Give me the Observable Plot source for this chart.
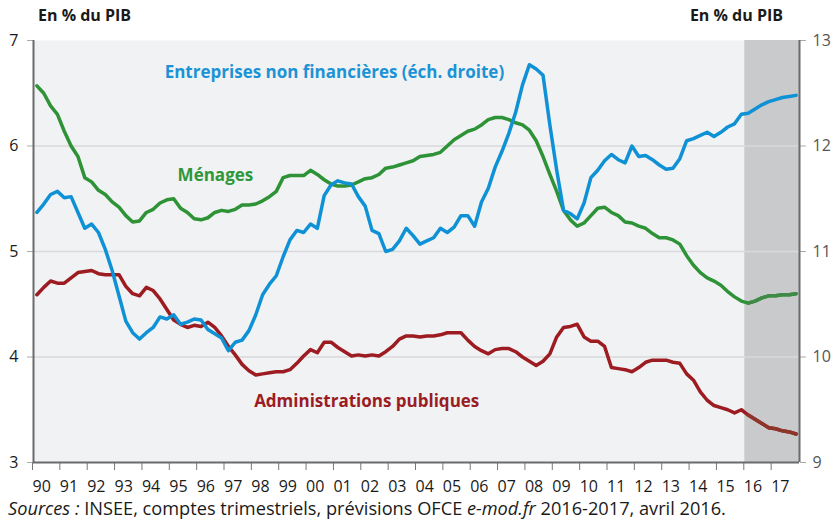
<!DOCTYPE html>
<html>
<head>
<meta charset="utf-8">
<script src="https://cdn.jsdelivr.net/npm/d3@7"></script>
<script src="https://cdn.jsdelivr.net/npm/@observablehq/plot@0.6"></script>
<style>
  html, body { margin: 0; padding: 0; background: #ffffff; overflow: hidden; }
  #wrap { position: relative; width: 835px; height: 522px; font-family: "Open Sans", sans-serif; color: #1a1a1a; overflow: hidden; }
  .hdr { position: absolute; top: 4px; font-weight: bold; font-size: 16px; }
  #caption { position: absolute; left: 8px; top: 498px; font-size: 18.2px; line-height: 20px; white-space: nowrap; }
</style>
</head>
<body>
<div id="wrap">
  <div id="chart"></div>
  <div class="hdr" style="left:38px;">En % du PIB</div>
  <div class="hdr" style="right:52px;">En % du PIB</div>
  <div id="caption"><i>Sources :</i> INSEE, comptes trimestriels, prévisions OFCE <i>e-mod.fr</i> 2016-2017, avril 2016.</div>
</div>
<script>
// Quarterly data, 1990Q1 – 2017Q4 (% du PIB)
const startYear = 1990;
const endYear = 2018;
const forecastStart = 2016;

const menages = [
  6.57, 6.50, 6.38, 6.30,  6.14, 6.00, 5.90, 5.70,  5.66, 5.58, 5.54, 5.47,
  5.42, 5.34, 5.28, 5.29,  5.37, 5.40, 5.46, 5.49,  5.50, 5.41, 5.37, 5.31,
  5.30, 5.32, 5.37, 5.39,  5.38, 5.40, 5.44, 5.44,  5.45, 5.48, 5.52, 5.57,
  5.70, 5.72, 5.72, 5.72,  5.77, 5.73, 5.68, 5.64,  5.62, 5.62, 5.63, 5.66,
  5.69, 5.70, 5.73, 5.79,  5.80, 5.82, 5.84, 5.86,  5.90, 5.91, 5.92, 5.94,
  6.00, 6.06, 6.10, 6.14,  6.16, 6.20, 6.25, 6.27,  6.27, 6.25, 6.22, 6.20,
  6.15, 6.05, 5.90, 5.73,  5.57, 5.39, 5.30, 5.24,  5.27, 5.34, 5.41, 5.42,
  5.37, 5.34, 5.28, 5.27,  5.24, 5.22, 5.17, 5.13,  5.13, 5.11, 5.07, 4.96,
  4.87, 4.80, 4.75, 4.72,  4.68, 4.62, 4.57, 4.53,  4.51, 4.53, 4.56, 4.58,
  4.58, 4.59, 4.59, 4.60
];

const administrations = [
  4.59, 4.66, 4.72, 4.70,  4.70, 4.75, 4.80, 4.81,  4.82, 4.79, 4.78, 4.78,
  4.78, 4.67, 4.60, 4.58,  4.66, 4.63, 4.55, 4.45,  4.35, 4.31, 4.28, 4.30,
  4.29, 4.33, 4.28, 4.20,  4.10, 4.02, 3.93, 3.87,  3.83, 3.84, 3.85, 3.86,
  3.86, 3.88, 3.94, 4.01,  4.07, 4.04, 4.14, 4.14,  4.09, 4.05, 4.01, 4.02,
  4.01, 4.02, 4.01, 4.05,  4.10, 4.17, 4.20, 4.20,  4.19, 4.20, 4.20, 4.21,
  4.23, 4.23, 4.23, 4.16,  4.10, 4.06, 4.03, 4.07,  4.08, 4.08, 4.05, 4.00,
  3.96, 3.92, 3.96, 4.03,  4.19, 4.28, 4.29, 4.31,  4.19, 4.15, 4.15, 4.10,
  3.90, 3.89, 3.88, 3.86,  3.90, 3.95, 3.97, 3.97,  3.97, 3.95, 3.94, 3.84,
  3.78, 3.67, 3.59, 3.54,  3.52, 3.50, 3.47, 3.50,  3.45, 3.41, 3.37, 3.33,
  3.32, 3.30, 3.29, 3.27
];

// right-hand scale
const entreprises = [
  11.37, 11.45, 11.54, 11.57,  11.51, 11.52, 11.37, 11.22,  11.26, 11.18, 11.02, 10.82,
  10.58, 10.34, 10.23, 10.17,  10.23, 10.28, 10.38, 10.36,  10.40, 10.31, 10.33, 10.36,
  10.35, 10.26, 10.22, 10.18,  10.06, 10.14, 10.16, 10.25,  10.40, 10.59, 10.69, 10.77,
  10.95, 11.11, 11.20, 11.18,  11.26, 11.22, 11.53, 11.63,  11.67, 11.65, 11.64, 11.52,
  11.43, 11.20, 11.17, 11.00,  11.02, 11.10, 11.22, 11.15,  11.07, 11.10, 11.13, 11.22,
  11.18, 11.23, 11.34, 11.34,  11.24, 11.47, 11.60, 11.80,  11.95, 12.12, 12.32, 12.58,
  12.77, 12.73, 12.67, 12.20,  11.77, 11.39, 11.36, 11.31,  11.46, 11.70, 11.77, 11.86,
  11.92, 11.87, 11.84, 12.00,  11.90, 11.91, 11.87, 11.82,  11.78, 11.79, 11.88, 12.05,
  12.07, 12.10, 12.13, 12.09,  12.13, 12.18, 12.21, 12.30,  12.31, 12.35, 12.39, 12.42,
  12.44, 12.46, 12.47, 12.48
];

const leftTicks = [3, 4, 5, 6, 7];
const rightOffset = 6; // right scale = left scale + 6 (9–13)
const yearTicks = d3.range(1990, 2018);
const yearLabels = ["90","91","92","93","94","95","96","97","98","99","00","01","02","03","04","05","06","07","08","09","10","11","12","13","14","15","16","17"];

const colors = {
  menages: "#2e9236", menagesF: "#3f8a47",
  admin: "#9c1c21", adminF: "#8c3528",
  entreprises: "#0f91d5"
};

const toRows = (arr) => arr.map((v, i) => ({t: startYear + (i + 0.5) / 4, v}));
const rowsM = toRows(menages);
const rowsA = toRows(administrations);
const rowsE = toRows(entreprises);
const fc = (rows) => rows.filter(d => d.t > forecastStart);

const chart = Plot.plot({
  width: 835,
  height: 500,
  marginLeft: 33,
  marginRight: 36,
  marginTop: 40,
  marginBottom: 38,
  style: {fontFamily: "'Open Sans', sans-serif", fontSize: "16px", background: "transparent"},
  x: {domain: [startYear, endYear], axis: null},
  y: {domain: [3, 7], axis: null},
  marks: [
    Plot.frame({fill: "#f1f2f4", stroke: "none"}),
    Plot.rect([{x1: forecastStart, x2: endYear}], {x1: "x1", x2: "x2", fill: "#c9cacc"}),
    Plot.gridY([4, 5, 6], {stroke: "#d9d9db", strokeOpacity: 1, strokeWidth: 1.3}),
    Plot.axisY(leftTicks, {anchor: "left", tickSize: 6, tickPadding: 9, stroke: "#aaaaaa", fill: "#1a1a1a", fontSize: 16, label: null, tickFormat: d => String(d)}),
    Plot.axisY(leftTicks, {anchor: "right", tickSize: 6, tickPadding: 7, stroke: "#aaaaaa", fill: "#555555", fontSize: 16, label: null, tickFormat: d => String(d + rightOffset)}),
    Plot.axisX(yearTicks, {anchor: "bottom", tickSize: 8, tickPadding: 10, stroke: "#777777", fill: "#1a1a1a", fontSize: 16, textAnchor: "start", dx: -1, label: null, tickFormat: (d, i) => yearLabels[i]}),
    Plot.ruleX([startYear, endYear], {stroke: "#6b6b6b", strokeWidth: 2}),
    Plot.ruleY([3], {stroke: "#6b6b6b", strokeWidth: 2}),
    Plot.line(rowsA, {x: "t", y: "v", stroke: colors.admin, strokeWidth: 3.5}),
    Plot.line(fc(rowsA), {x: "t", y: "v", stroke: colors.adminF, strokeWidth: 3.5}),
    Plot.line(rowsM, {x: "t", y: "v", stroke: colors.menages, strokeWidth: 3.5}),
    Plot.line(fc(rowsM), {x: "t", y: "v", stroke: colors.menagesF, strokeWidth: 3.5}),
    Plot.line(rowsE, {x: "t", y: d => d.v - rightOffset, stroke: colors.entreprises, strokeWidth: 3.5}),
    Plot.text(["Entreprises non financières (éch. droite)"], {x: 2001.0, y: 6.70, text: d => d, fill: "#1b93d6", fontWeight: "bold", fontSize: 17}),
    Plot.text(["Ménages"], {x: 1996.65, y: 5.72, text: d => d, fill: "#2f973a", fontWeight: "bold", fontSize: 17}),
    Plot.text(["Administrations publiques"], {x: 2002.18, y: 3.58, text: d => d, fill: "#9b1c22", fontWeight: "bold", fontSize: 17})
  ]
});
document.getElementById("chart").appendChild(chart);
</script>
</body>
</html>
